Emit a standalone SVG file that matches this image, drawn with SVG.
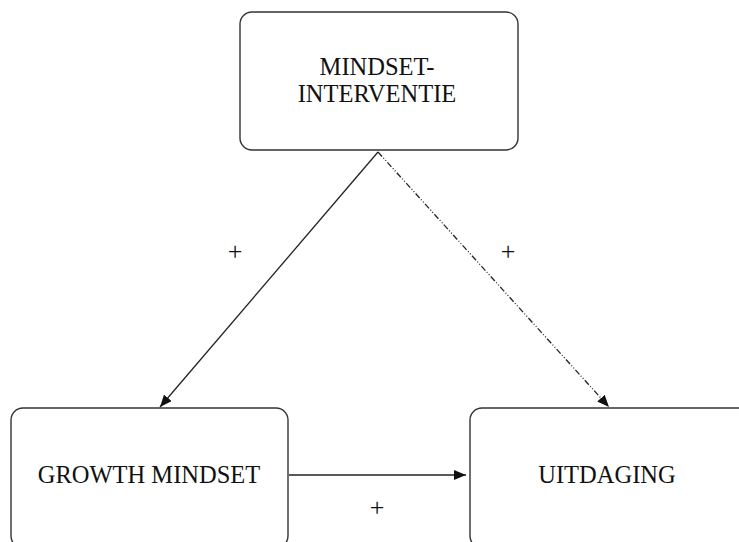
<svg xmlns="http://www.w3.org/2000/svg" width="739" height="542" viewBox="0 0 739 542">
<defs>
<style>
.box{fill:#fff;stroke:#333;stroke-width:1.4}
.lbl{font-family:"Liberation Serif","Times New Roman",serif;font-size:24.5px;fill:#111;text-anchor:middle}
.plus{font-family:"Liberation Serif","Times New Roman",serif;font-size:26px;fill:#111;text-anchor:middle}
.edge{stroke:#222;stroke-width:1.3;fill:none}
.dash{stroke-dasharray:6,2,1,2,1,2}
</style>
<marker id="arr" viewBox="0 0 12 10" refX="12" refY="5" markerWidth="12" markerHeight="10" markerUnits="userSpaceOnUse" orient="auto">
<path d="M0,0 L12,5 L0,10 z" fill="#111"/>
</marker>
</defs>
<rect width="739" height="542" fill="#fff"/>
<g id="edges">
<line class="edge" x1="378" y1="152" x2="160" y2="407" marker-end="url(#arr)"/>
<line class="edge dash" x1="378" y1="152" x2="609" y2="407" marker-end="url(#arr)"/>
<line class="edge" x1="289" y1="475" x2="466" y2="475" marker-end="url(#arr)"/>
<text class="plus" x="235" y="260">+</text>
<text class="plus" x="508" y="260">+</text>
<text class="plus" x="377" y="516">+</text>
</g>
<g id="node-intervention">
<rect class="box" x="240" y="12" width="278" height="138" rx="12"/>
<text class="lbl" x="377" y="75">MINDSET-</text>
<text class="lbl" x="377" y="102">INTERVENTIE</text>
</g>
<g id="node-growth">
<rect class="box" x="11" y="408" width="277" height="140" rx="12"/>
<text class="lbl" x="149" y="483">GROWTH MINDSET</text>
</g>
<g id="node-uitdaging">
<rect class="box" x="470" y="408" width="280" height="140" rx="12"/>
<text class="lbl" x="607" y="483">UITDAGING</text>
</g>
</svg>
